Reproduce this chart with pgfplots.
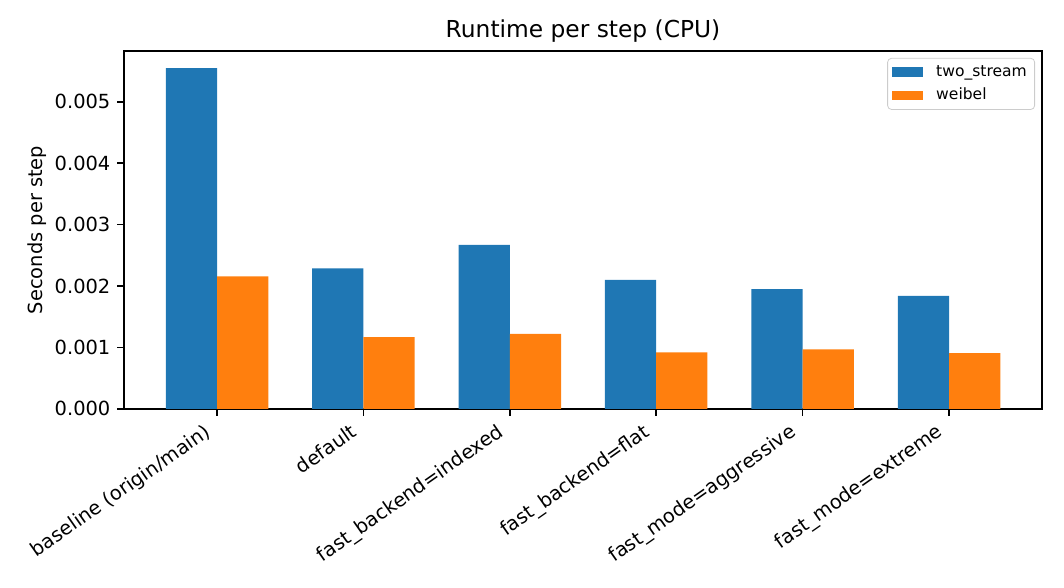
\documentclass[border=0pt]{standalone}
\usepackage{fontspec}
\setmainfont{DejaVu Sans}
\usepackage{pgfplots}
\usepackage{pgfplotstable}
\pgfplotsset{compat=1.18}
\definecolor{c1}{HTML}{1F77B4}
\definecolor{c2}{HTML}{FF7F0E}
\pgfplotstableread{
x ts we
0 0.00555 0.00216
1 0.00229 0.00117
2 0.00267 0.00122
3 0.00210 0.00092
4 0.00195 0.00097
5 0.00184 0.00091
}\data
\begin{document}
\begin{tikzpicture}
\begin{axis}[
  name=ax,
  at={(0,0)}, anchor=south west,
  scale only axis,
  width=472.1pt, height=184.1pt,
  xmin=-0.635, xmax=5.635,
  ymin=0, ymax=0.005829,
  axis line style={line width=0.8pt},
  tick style={line width=0.8pt, black},
  tick align=outside,
  major tick length=3.5pt,
  xtick pos=bottom, ytick pos=left,
  xtick={0,1,2,3,4,5},
  xticklabels={baseline (origin/main),default,fast\_backend=indexed,fast\_backend=flat,fast\_mode=aggressive,fast\_mode=extreme},
  x tick label style={rotate=35, anchor=north east, inner sep=0pt, text height=9.3pt, text depth=2.4pt, xshift=-7.8pt, yshift=3pt, font=\fontsize{10}{12}\selectfont},
  ytick={0,0.001,0.002,0.003,0.004,0.005},
  scaled y ticks=false,
  y tick label style={font=\fontsize{10}{12}\selectfont, /pgf/number format/.cd, fixed, fixed zerofill, precision=3, assume math mode=true},
  ylabel={Seconds per step},
  ylabel style={at={(axis description cs:-0.0947,0.5)}, anchor=center, font=\fontsize{10}{12}\selectfont},
  title={Runtime per step (CPU)},
  every axis title/.style={at={(axis description cs:0.5,1)}, anchor=base, yshift=6.7pt, font=\fontsize{12}{14.4}\selectfont},
  legend style={at={(1,1)}, anchor=north east, xshift=-3.6pt, yshift=-3.6pt, draw=black!20, rounded corners=2pt, font=\fontsize{8}{9.6}\selectfont, cells={anchor=west}, inner xsep=2pt, inner ysep=1.5pt, row sep=0.6pt},
  ybar, bar width=0.35,
]
\addplot[fill=c1, draw=none, bar shift=-0.175, legend image code/.code={\fill[c1, sharp corners] (0pt,-2.4pt) rectangle (16pt,2.4pt); \path (21pt,0pt);}] table[x=x, y=ts] {\data};
\addlegendentry{two\_stream}
\addplot[fill=c2, draw=none, bar shift=0.175, legend image code/.code={\fill[c2, sharp corners] (0pt,-2.4pt) rectangle (16pt,2.4pt); \path (21pt,0pt);}] table[x=x, y=we] {\data};
\addlegendentry{weibel}
\end{axis}
\pgfresetboundingbox
\path[use as bounding box] ([shift={(-63.8pt,-92.1pt)}]ax.south west) rectangle ([shift={(483.4pt,210.3pt)}]ax.south west);
\end{tikzpicture}
\end{document}
